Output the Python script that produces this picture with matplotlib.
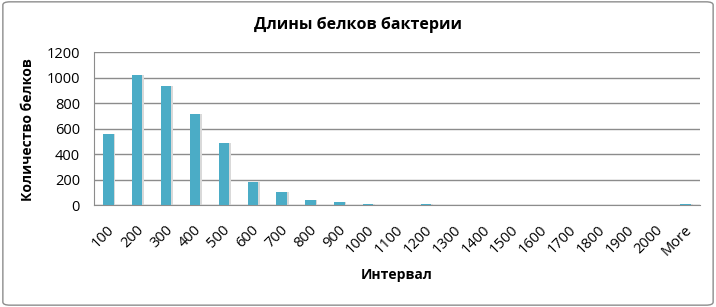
import numpy as np
import matplotlib.pyplot as plt
from matplotlib.patches import FancyBboxPatch
from matplotlib.transforms import ScaledTranslation

# histogram of protein lengths
bins = ['100', '200', '300', '400', '500', '600', '700', '800', '900', '1000',
        '1100', '1200', '1300', '1400', '1500', '1600', '1700', '1800', '1900',
        '2000', 'More']
counts = [560, 1020, 930, 715, 490, 180, 100, 40, 25, 10,
          2, 8, 2, 1, 1, 0, 0, 0, 0, 0, 8]
yticks = [0, 200, 400, 600, 800, 1000, 1200]

plt.rcParams['font.family'] = ['Open Sans', 'DejaVu Sans']

fig = plt.figure(figsize=(7.16, 3.07), dpi=100)
fig.patches.append(FancyBboxPatch((0.004, 0.006), 0.992, 0.988,
                                  boxstyle='round,pad=0,rounding_size=0.01',
                                  transform=fig.transFigure, fill=False,
                                  edgecolor='#8c8c8c', linewidth=1))
ax = fig.add_axes([0.1313, 0.332, 0.8464, 0.4986])

x = np.arange(len(bins))
# soft shadow behind bars
ax.bar(x + 0.06, counts, width=0.36, color='#d9d9d9', zorder=2)
ax.bar(x, counts, width=0.36, color='#4bacc6', zorder=3)

ax.set_xlim(-0.5, len(bins) - 0.5)
ax.set_ylim(0, 1200)
ax.set_yticks(yticks)
ax.set_yticklabels([str(v) for v in yticks], fontsize=10.5)
ax.set_xticks(x)
ax.set_xticklabels([])
# rotated category labels, placed by hand like excel does
off = ScaledTranslation(4 / 100, -23 / 100, fig.dpi_scale_trans)
for xi, b in zip(x, bins):
    ax.text(xi, 0, b, transform=ax.get_xaxis_transform() + off,
            rotation=45, ha='right', va='center', rotation_mode='anchor',
            fontsize=10.5)
ax.tick_params(axis='x', length=0)
ax.tick_params(axis='y', length=0, pad=10)
ax.grid(axis='y', color='#8c8c8c', linewidth=1, zorder=0)
for s in ['top', 'right']:
    ax.spines[s].set_visible(False)
for s in ['left', 'bottom']:
    ax.spines[s].set_color('#8c8c8c')

fig.text(397 / 716, 1 - 275 / 307, 'Интервал', ha='center', va='center',
         fontsize=10, fontweight='bold')
fig.text(28 / 716, 1 - 130 / 307, 'Количество белков', ha='center',
         va='center', rotation=90, fontsize=10, fontweight='bold')
fig.text(0.5, 1 - 25 / 307, 'Длины белков бактерии', ha='center', va='center',
         fontsize=11.5, fontweight='bold')

fig.savefig('out.png', dpi=100)
